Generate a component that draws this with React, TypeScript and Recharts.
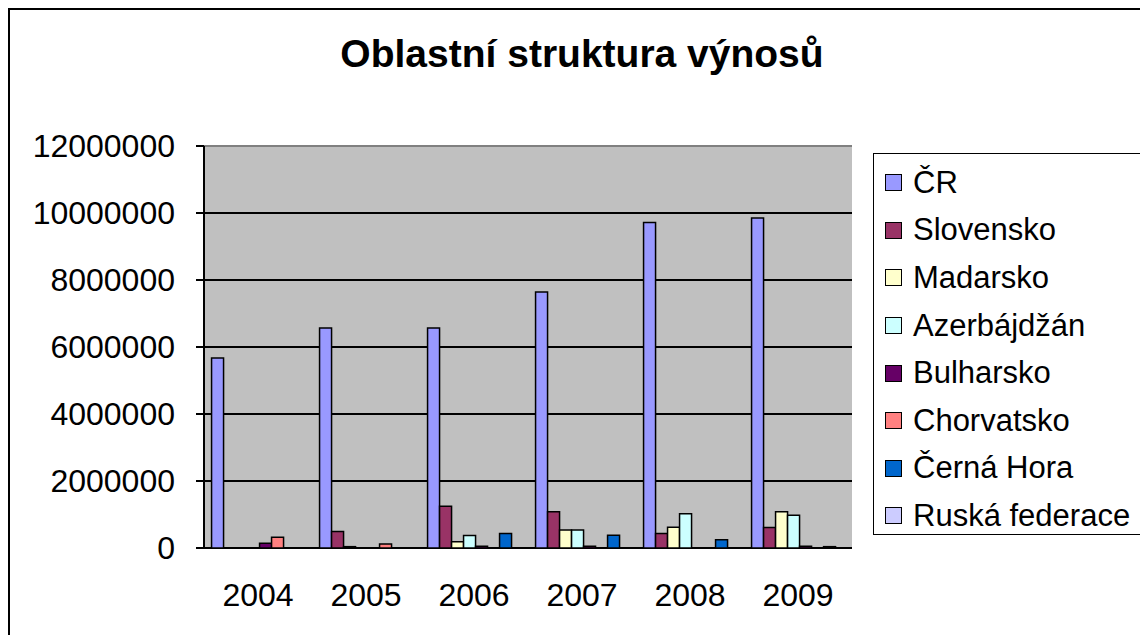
import React from 'react';
import { BarChart, Bar, XAxis, YAxis, CartesianGrid, Legend, ReferenceLine } from 'recharts';

const years = ['2004', '2005', '2006', '2007', '2008', '2009'];

const cr = [5670000, 6570000, 6570000, 7640000, 9720000, 9850000];
const slovensko = [0, 490000, 1250000, 1080000, 430000, 610000];
const madarsko = [0, 40000, 190000, 540000, 620000, 1080000];
const azerbajdzan = [0, 0, 370000, 540000, 1020000, 975000];
const bulharsko = [140000, 0, 50000, 50000, 0, 50000];
const chorvatsko = [320000, 120000, 0, 0, 0, 0];
const cernaHora = [0, 0, 430000, 380000, 250000, 40000];
const ruskaFederace = [0, 0, 0, 0, 0, 0];

const yTicks = [0, 2000000, 4000000, 6000000, 8000000, 10000000, 12000000];
const edgeTicks = [0, 1, 2, 3, 4, 5, 6];

const seriesList = [
  { key: 'cr', name: 'ČR', values: cr, color: '#9999FF' },
  { key: 'sk', name: 'Slovensko', values: slovensko, color: '#993366' },
  { key: 'hu', name: 'Madarsko', values: madarsko, color: '#FFFFCC' },
  { key: 'az', name: 'Azerbájdžán', values: azerbajdzan, color: '#CCFFFF' },
  { key: 'bg', name: 'Bulharsko', values: bulharsko, color: '#660066' },
  { key: 'hr', name: 'Chorvatsko', values: chorvatsko, color: '#FF8080' },
  { key: 'me', name: 'Černá Hora', values: cernaHora, color: '#0066CC' },
  { key: 'ru', name: 'Ruská federace', values: ruskaFederace, color: '#CCCCFF' },
];

const data = years.map((year, i) => {
  const row: Record<string, string | number> = { year };
  seriesList.forEach((s) => {
    row[s.key] = s.values[i];
  });
  return row;
});

const FONT = '"Liberation Sans", Arial, sans-serif';

const LegendBox = () => (
  <div
    style={{
      boxSizing: 'border-box',
      width: 270,
      height: 382,
      border: '1.5px solid #000',
      background: '#fff',
      paddingTop: 5,
      paddingLeft: 11,
      fontFamily: FONT,
      fontSize: 31,
      color: '#000',
    }}
  >
    {seriesList.map((s) => (
      <div key={s.key} style={{ display: 'flex', alignItems: 'center', height: 47.6 }}>
        <span
          style={{
            display: 'inline-block',
            width: 15,
            height: 15,
            background: s.color,
            border: '1.5px solid #000',
            marginRight: 11,
          }}
        />
        <span style={{ whiteSpace: 'nowrap' }}>{s.name}</span>
      </div>
    ))}
  </div>
);

export default function App() {
  return (
    <div style={{ position: 'relative', width: 1140, height: 627, overflow: 'hidden', background: '#fff' }}>
      <div
        style={{
          position: 'absolute',
          left: 0,
          top: 0,
          width: 1200,
          height: 700,
          boxSizing: 'border-box',
          border: '2px solid #000',
          pointerEvents: 'none',
        }}
      />
      <div
        style={{
          position: 'absolute',
          left: 274,
          top: 26,
          width: 600,
          textAlign: 'center',
          fontFamily: FONT,
          fontWeight: 'bold',
          fontSize: 39,
          lineHeight: 1,
          color: '#000',
        }}
      >
        Oblastní struktura výnosů
      </div>
      <div style={{ position: 'absolute', left: 0, top: 0 }}>
        <BarChart
          width={1140}
          height={627}
          data={data}
          margin={{ top: 138, right: 296, bottom: 0, left: 0 }}
          barCategoryGap="7%"
          barGap={0}
          style={{ fontFamily: FONT }}
        >
          <CartesianGrid vertical={false} stroke="#000" strokeWidth={2} fill="#C0C0C0" fillOpacity={1} />
          <XAxis
            xAxisId="edges"
            type="number"
            domain={[0, 6]}
            ticks={edgeTicks}
            height={0}
            tickSize={10}
            tickFormatter={() => ''}
            axisLine={{ stroke: '#000', strokeWidth: 2 }}
            tickLine={{ stroke: '#000', strokeWidth: 2 }}
          />
          <XAxis
            dataKey="year"
            height={87}
            axisLine={false}
            tickLine={false}
            tickSize={0}
            tickMargin={35}
            tick={{ fill: '#000', fontSize: 32 }}
          />
          <YAxis
            width={196}
            domain={[0, 12000000]}
            ticks={yTicks}
            interval={0}
            tickSize={8}
            tickMargin={21}
            axisLine={{ stroke: '#000', strokeWidth: 2 }}
            tickLine={{ stroke: '#000', strokeWidth: 2 }}
            tick={{ fill: '#000', fontSize: 32 }}
          />
          <YAxis
            yAxisId="r"
            orientation="right"
            width={0}
            domain={[0, 1]}
            tick={false}
            tickLine={false}
            axisLine={{ stroke: '#808080', strokeWidth: 1.5 }}
          />
          <ReferenceLine y={12000000} stroke="#808080" strokeWidth={2} />
          {seriesList.map((s) => (
            <Bar
              key={s.key}
              dataKey={s.key}
              name={s.name}
              fill={s.color}
              stroke="#000"
              strokeWidth={1.5}
              isAnimationActive={false}
            />
          ))}
          <Legend
            layout="horizontal"
            verticalAlign="middle"
            align="center"
            content={() => <LegendBox />}
            wrapperStyle={{ left: 865, top: 145, width: 270, height: 382 }}
          />
        </BarChart>
      </div>
    </div>
  );
}
